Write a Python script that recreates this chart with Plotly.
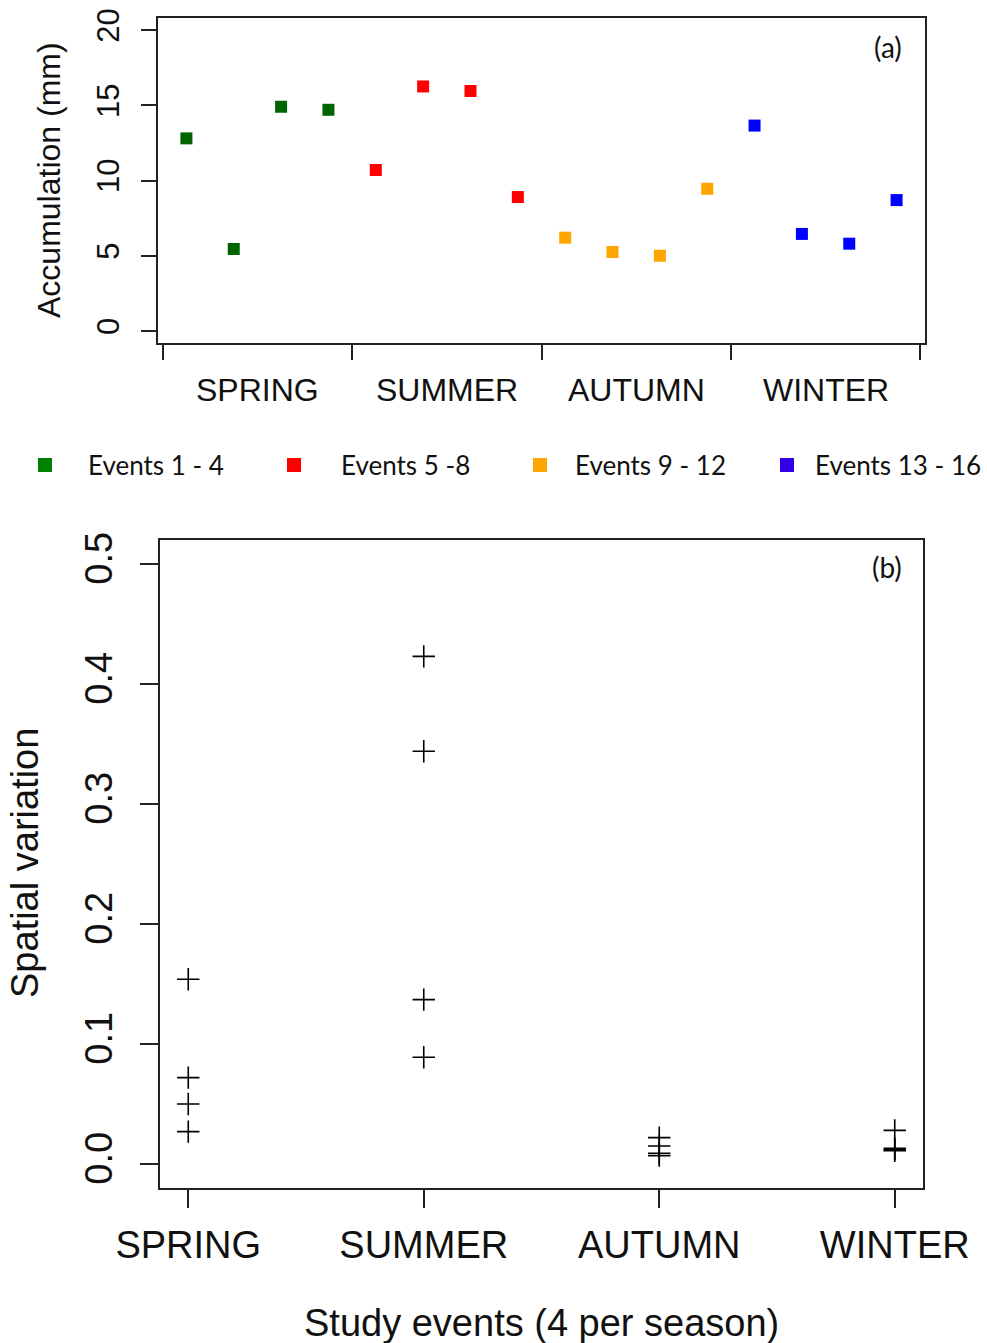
import plotly.graph_objects as go

# ---------------- data ----------------
events = list(range(1, 17))
accumulation = [12.8, 5.45, 14.9, 14.7, 10.7, 16.25, 15.95, 8.9,
                6.2, 5.25, 5.0, 9.45, 13.65, 6.45, 5.8, 8.7]
group_names = ["Events 1 - 4", "Events 5 -8", "Events 9 - 12", "Events 13 - 16"]
group_colors = ["#006400", "#FF0000", "#FFA500", "#0000FF"]
legend_colors = ["#008000", "#FF0000", "#FFA500", "#3300E6"]
seasons = ["SPRING", "SUMMER", "AUTUMN", "WINTER"]
season_pos = [1, 2, 3, 4]
spatial_spring = [0.154, 0.072, 0.050, 0.027]
spatial_summer = [0.423, 0.344, 0.137, 0.089]
spatial_autumn = [0.022, 0.015, 0.009, 0.007]
spatial_winter = [0.028, 0.013, 0.012, 0.011]
boundaries = [0.5, 4.5, 8.5, 12.5, 16.5]
season_centres = [2.5, 6.5, 10.5, 14.5]
acc_ticks = [0, 5, 10, 15, 20]
sv_ticks = [0.0, 0.1, 0.2, 0.3, 0.4, 0.5]
sv_ticklabels = ["0.0", "0.1", "0.2", "0.3", "0.4", "0.5"]

W, H = 987, 1343
ARIAL = "Liberation Sans, Arial, sans-serif"
CAL = "Lato, Carlito, Calibri, sans-serif"
legend_ids = ["legend", "legend2", "legend3", "legend4"]
legend_left_px = [2, 247, 505, 759]
legend_itemwidths = [76, 84, 60, 46]

fig = go.Figure()

# top panel points
for g in range(4):
    fig.add_trace(go.Scatter(
        x=events[g*4:(g+1)*4], y=accumulation[g*4:(g+1)*4],
        mode="markers", xaxis="x", yaxis="y", showlegend=False,
        marker=dict(symbol="square", size=12, color=group_colors[g], line=dict(width=0))))

# legend entries (one legend box each, to reproduce the spacing)
for g in range(4):
    fig.add_trace(go.Scatter(
        x=[None], y=[None], mode="markers", xaxis="x", yaxis="y",
        name=group_names[g], showlegend=True, legend=legend_ids[g],
        marker=dict(symbol="square", size=14, color=legend_colors[g], line=dict(width=0))))

# bottom panel crosses
for s, vals in enumerate([spatial_spring, spatial_summer, spatial_autumn, spatial_winter]):
    fig.add_trace(go.Scatter(
        x=[season_pos[s]] * len(vals), y=vals, mode="markers",
        xaxis="x2", yaxis="y2", showlegend=False,
        marker=dict(symbol="cross-thin-open", size=16, color="black",
                    line=dict(width=1.6, color="black"))))

axis_common = dict(showline=True, linecolor="#222", linewidth=1.5, mirror=True,
                   showgrid=False, zeroline=False, ticks="outside",
                   tickcolor="#222", tickwidth=1.5, automargin=False)

layout_legends = {}
for lid, lx, iw in zip(legend_ids, legend_left_px, legend_itemwidths):
    layout_legends[lid] = dict(orientation="h", xref="container", yref="container",
                               x=lx/W, xanchor="left", y=1-465/H, yanchor="middle",
                               itemwidth=iw, font=dict(family=CAL, size=26, color="#111"),
                               bgcolor="rgba(0,0,0,0)", itemsizing="trace")

fig.update_layout(
    width=W, height=H, margin=dict(l=0, r=0, t=0, b=0, autoexpand=False),
    paper_bgcolor="white", plot_bgcolor="white",
    xaxis=dict(domain=[158/W, 925/W], anchor="y", range=[0.4, 16.6],
               tickvals=boundaries, ticktext=[""]*5, ticklen=15, **axis_common),
    yaxis=dict(domain=[1-343/H, 1-18/H], anchor="x", range=[-0.8, 20.8],
               tickvals=acc_ticks, ticktext=[str(t) for t in acc_ticks],
               tickangle=-90, ticklen=15, ticklabelstandoff=10,
               tickfont=dict(family=ARIAL, size=31, color="#111"), **axis_common),
    xaxis2=dict(domain=[160/W, 923/W], anchor="y2", range=[0.88, 4.12],
                tickvals=season_pos, ticktext=seasons, ticklen=18,
                ticklabelstandoff=5,
                tickfont=dict(family=ARIAL, size=38, color="#111"), **axis_common),
    yaxis2=dict(domain=[1-1188/H, 1-540/H], anchor="x2", range=[-0.02, 0.52],
                tickvals=sv_ticks, ticktext=sv_ticklabels, tickangle=-90,
                ticklen=18, ticklabelstandoff=13,
                tickfont=dict(family=ARIAL, size=38, color="#111"), **axis_common),
    **layout_legends,
)

annotations = []
for c, s in zip(season_centres, seasons):
    annotations.append(dict(x=c, y=1-390/H, xref="x", yref="paper", text=s,
                            showarrow=False, font=dict(family=ARIAL, size=32, color="#111"),
                            xanchor="center", yanchor="middle"))
annotations += [
    dict(x=49/W, y=1-180/H, xref="paper", yref="paper", text="Accumulation (mm)",
         textangle=-90, showarrow=False, font=dict(family=ARIAL, size=32, color="#111"),
         xanchor="center", yanchor="middle"),
    dict(x=25/W, y=1-863/H, xref="paper", yref="paper", text="Spatial variation",
         textangle=-90, showarrow=False, font=dict(family=ARIAL, size=38, color="#111"),
         xanchor="center", yanchor="middle"),
    dict(x=541/W, y=1-1323/H, xref="paper", yref="paper", text="Study events (4 per season)",
         showarrow=False, font=dict(family=ARIAL, size=38, color="#111"),
         xanchor="center", yanchor="middle"),
    dict(x=888/W, y=1-47/H, xref="paper", yref="paper", text="(a)",
         showarrow=False, font=dict(family=CAL, size=28, color="#111"),
         xanchor="center", yanchor="middle"),
    dict(x=887/W, y=1-567/H, xref="paper", yref="paper", text="(b)",
         showarrow=False, font=dict(family=CAL, size=28, color="#111"),
         xanchor="center", yanchor="middle"),
]
fig.update_layout(annotations=annotations)

fig.write_html("out.html")
